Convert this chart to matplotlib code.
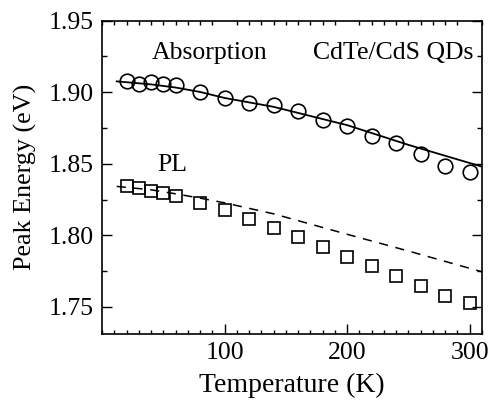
import numpy as np
import matplotlib.pyplot as plt
from matplotlib.ticker import MultipleLocator

plt.rcParams['font.family'] = ['Liberation Serif', 'DejaVu Serif']

# measured data
temp = [20, 30, 40, 50, 60, 80, 100, 120, 140, 160, 180, 200, 220, 240, 260, 280, 300]
abs_energy = [1.9076, 1.9060, 1.9072, 1.9060, 1.9053, 1.9002, 1.8960, 1.8926, 1.8910,
              1.8868, 1.8806, 1.8764, 1.8694, 1.8648, 1.8567, 1.8486, 1.8440]
pl_energy = [1.8342, 1.8331, 1.8313, 1.8296, 1.8273, 1.8227, 1.8176, 1.8116, 1.8053,
             1.7988, 1.7919, 1.7849, 1.7787, 1.7717, 1.7648, 1.7578, 1.7526]

# fit curves
fit_temp = [12, 40, 60, 80, 100, 140, 200, 250, 300, 310]
abs_fit = [1.9076, 1.9055, 1.9033, 1.9002, 1.8960, 1.8898, 1.8770, 1.8632, 1.8505, 1.8480]
pl_fit = [1.8342, 1.8318, 1.8290, 1.8260, 1.8227, 1.8150, 1.8007, 1.7890, 1.7769, 1.7745]

x_ticks = [100, 200, 300]

fig = plt.figure(figsize=(4.89, 4.03), dpi=100)
ax = fig.add_axes([0.2086, 0.1712, 0.7771, 0.7774])

ax.plot(fit_temp, abs_fit, color='black', linestyle='-', linewidth=1.3)
ax.plot(fit_temp, pl_fit, color='black', linestyle=(0, (6, 5)), linewidth=1.1)
ax.plot(temp, abs_energy, linestyle='none', marker='o', markersize=10.5,
        markerfacecolor='none', markeredgecolor='black', markeredgewidth=1.2)
ax.plot(temp, pl_energy, linestyle='none', marker='s', markersize=8.6,
        markerfacecolor='none', markeredgecolor='black', markeredgewidth=1.2)

ax.set_xlim(0, 310)
ax.set_ylim(1.731, 1.95)
ax.set_xticks(x_ticks)
ax.xaxis.set_minor_locator(MultipleLocator(10))
ax.yaxis.set_major_locator(MultipleLocator(0.05))
ax.yaxis.set_minor_locator(MultipleLocator(0.025))
ax.yaxis.set_major_formatter(plt.FormatStrFormatter('%.2f'))

ax.tick_params(which='both', direction='in', top=True, right=True,
               labelsize=18.5, width=1.0, pad=6)
ax.tick_params(which='major', length=7)
ax.tick_params(which='minor', length=3.5)
ax.tick_params(axis='x', which='minor', top=True, length=3)
ax.tick_params(axis='x', which='major', top=False)
for s in ax.spines.values():
    s.set_linewidth(1.2)

ax.set_xlabel('Temperature (K)', fontsize=20, labelpad=6)
ax.set_ylabel('Peak Energy (eV)', fontsize=18.8, labelpad=8)

ax.text(0.284, 0.898, 'Absorption', transform=ax.transAxes, fontsize=18.5,
        ha='center', va='center')
ax.text(0.976, 0.898, 'CdTe/CdS QDs', transform=ax.transAxes, fontsize=18.5,
        ha='right', va='center')
ax.text(0.184, 0.54, 'PL', transform=ax.transAxes, fontsize=18.5,
        ha='center', va='center')

fig.savefig('out.png', dpi=100)
